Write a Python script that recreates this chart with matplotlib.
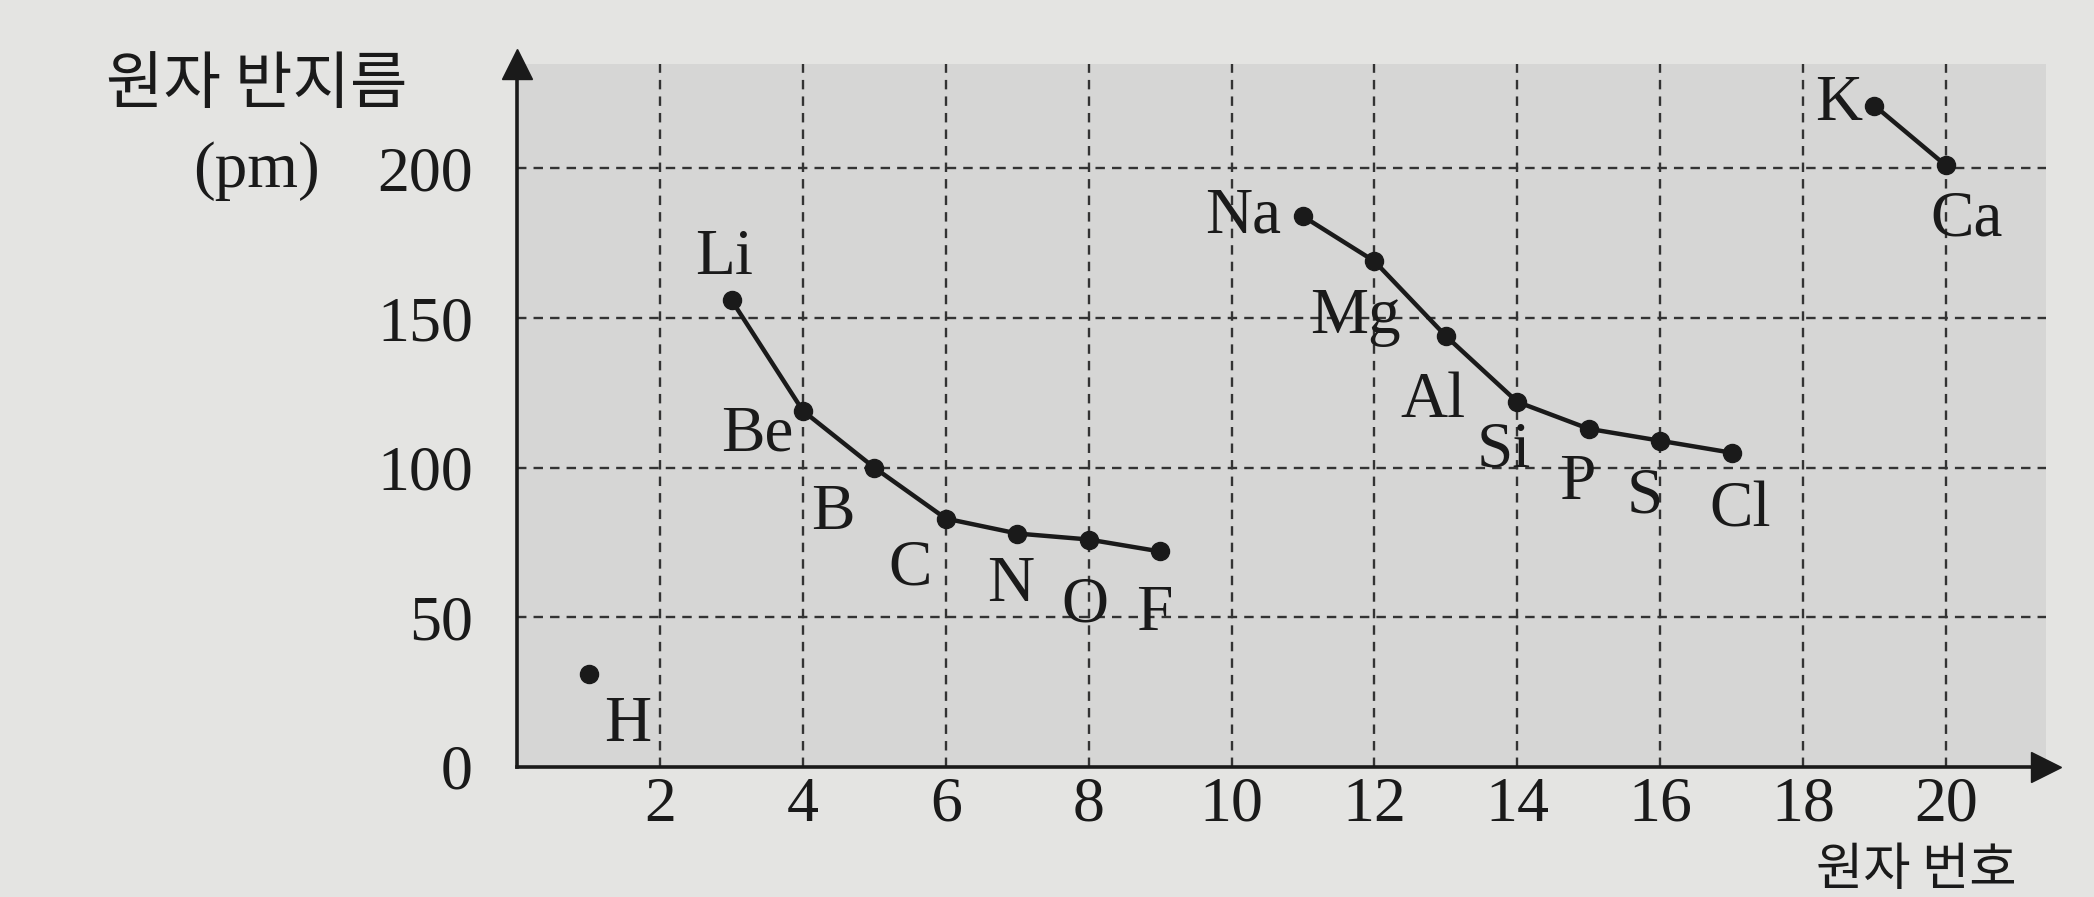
import matplotlib.pyplot as plt

# 한글 폰트 + 숫자용 세리프
plt.rcParams['font.family'] = ['Liberation Serif', 'Noto Sans CJK KR']

# 주기별 원자 번호 / 원자 반지름(pm)
p1_sym = ['H']
p1_z = [1]
p1_r = [31]

p2_sym = ['Li', 'Be', 'B', 'C', 'N', 'O', 'F']
p2_z = [3, 4, 5, 6, 7, 8, 9]
p2_r = [156, 119, 100, 83, 78, 76, 72]

p3_sym = ['Na', 'Mg', 'Al', 'Si', 'P', 'S', 'Cl']
p3_z = [11, 12, 13, 14, 15, 16, 17]
p3_r = [184, 169, 144, 122, 113, 109, 105]

p4_sym = ['K', 'Ca']
p4_z = [19, 20]
p4_r = [221, 201]

x_ticks = [2, 4, 6, 8, 10, 12, 14, 16, 18, 20]
y_ticks = [0, 50, 100, 150, 200]

# 원소 기호 위치 (points offset)
label_off = {
    'H': (28, -37), 'Li': (-5, 30), 'Be': (-33, -17), 'B': (-30, -33),
    'C': (-26, -36), 'N': (-5, -37), 'O': (-3, -48), 'F': (-4, -45),
    'Na': (-43, 0), 'Mg': (-14, -40), 'Al': (-9, -47), 'Si': (-10, -35),
    'P': (-8, -39), 'S': (-11, -40), 'Cl': (6, -42), 'K': (-26, 1),
    'Ca': (15, -39),
}

fig = plt.figure(figsize=(20.94, 8.97), dpi=100, facecolor='#e4e4e2')
ax = fig.add_axes([0.247, 0.145, 0.73, 0.784])
ax.set_facecolor('#d6d6d5')

ax.set_xlim(0, 21.4)
ax.set_ylim(0, 235)

# 점선 격자
for x in x_ticks:
    ax.axvline(x, color='#333333', lw=1.7, ls=(0, (4, 3)), zorder=1)
for y in y_ticks[1:]:
    ax.axhline(y, color='#333333', lw=1.7, ls=(0, (4, 3)), zorder=1)

for sym, z, r in [(p1_sym, p1_z, p1_r), (p2_sym, p2_z, p2_r),
                  (p3_sym, p3_z, p3_r), (p4_sym, p4_z, p4_r)]:
    ax.plot(z, r, color='#1a1a1a', lw=3.2, marker='o', ms=13, zorder=3)
    for s, xi, yi in zip(sym, z, r):
        ax.annotate(s, (xi, yi), xytext=label_off[s], textcoords='offset points',
                    ha='center', va='center', fontsize=47, color='#1a1a1a', zorder=4)

# 축 + 화살표
for side in ['top', 'right']:
    ax.spines[side].set_visible(False)
ax.spines['left'].set_linewidth(2.6)
ax.spines['bottom'].set_linewidth(2.6)
ax.spines['left'].set_color('#1a1a1a')
ax.spines['bottom'].set_color('#1a1a1a')
ax.plot(1, 0, '>', color='#1a1a1a', ms=22, transform=ax.transAxes, clip_on=False)
ax.plot(0, 1, '^', color='#1a1a1a', ms=22, transform=ax.transAxes, clip_on=False)

ax.set_xticks(x_ticks)
ax.set_yticks(y_ticks)
ax.tick_params(axis='x', length=0, pad=7, labelsize=46, colors='#1a1a1a')
ax.tick_params(axis='y', length=0, pad=32, labelsize=46, colors='#1a1a1a')

fig.text(0.1226, 0.905, '원자 반지름', ha='center', va='center', fontsize=45,
         family=['Noto Sans CJK KR'], color='#1a1a1a')
fig.text(0.1226, 0.809, '(pm)', ha='center', va='center', fontsize=47, color='#1a1a1a')
fig.text(0.915, 0.03, '원자 번호', ha='center', va='center', fontsize=37,
         family=['Noto Sans CJK KR'], color='#1a1a1a')

plt.savefig('out.png', dpi=100, facecolor=fig.get_facecolor())
